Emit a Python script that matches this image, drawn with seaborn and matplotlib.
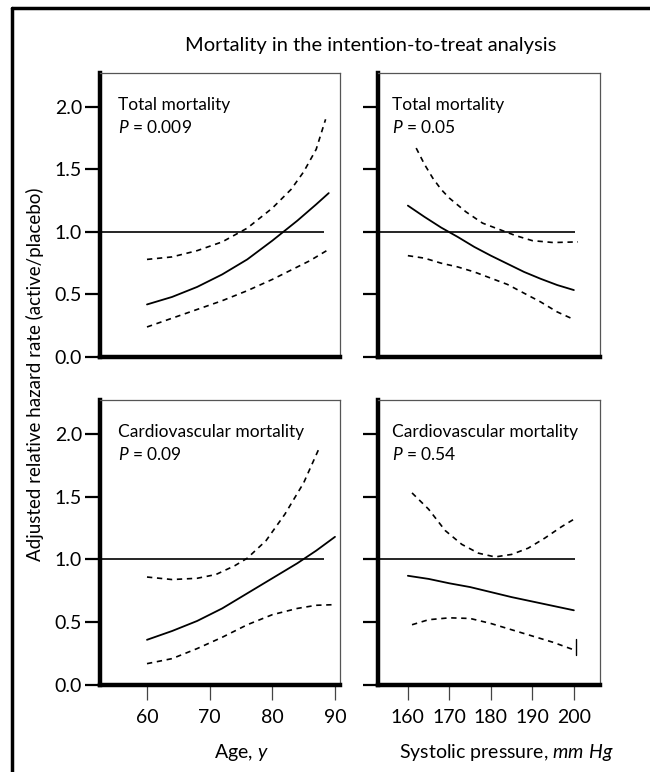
import seaborn as sns
import matplotlib.pyplot as plt
from matplotlib.lines import Line2D

# ---- values ----
# Total mortality by age
tm_age_x = [60, 64, 68, 72, 76, 80, 84, 87, 89]
tm_age_est = [0.42, 0.48, 0.56, 0.66, 0.78, 0.93, 1.09, 1.22, 1.31]
tm_age_up_x = [60, 64, 68, 72, 76, 80, 83, 85, 87, 88.5]
tm_age_up = [0.78, 0.80, 0.85, 0.92, 1.03, 1.19, 1.34, 1.48, 1.66, 1.90]
tm_age_lo_x = [60, 64, 68, 72, 76, 80, 84, 86, 89]
tm_age_lo = [0.24, 0.31, 0.38, 0.45, 0.53, 0.62, 0.72, 0.77, 0.86]

# Total mortality by systolic pressure
tm_sbp_x = [160, 164, 168, 172, 176, 180, 184, 188, 192, 196, 200]
tm_sbp_est = [1.21, 1.12, 1.035, 0.96, 0.88, 0.81, 0.745, 0.68, 0.625, 0.575, 0.535]
tm_sbp_up_x = [162, 164, 166, 168, 170, 174, 178, 182, 186, 190, 195, 201]
tm_sbp_up = [1.67, 1.54, 1.43, 1.34, 1.27, 1.16, 1.07, 1.02, 0.97, 0.93, 0.915, 0.92]
tm_sbp_lo_x = [160, 164, 168, 172, 176, 180, 184, 188, 192, 196, 200]
tm_sbp_lo = [0.81, 0.79, 0.75, 0.72, 0.68, 0.63, 0.58, 0.51, 0.44, 0.36, 0.30]

# Cardiovascular mortality by age
cv_age_x = [60, 64, 68, 72, 76, 80, 84, 87, 90]
cv_age_est = [0.36, 0.43, 0.51, 0.61, 0.73, 0.85, 0.97, 1.07, 1.18]
cv_age_up_x = [60, 64, 68, 71, 74, 76, 79, 82, 85, 87.6]
cv_age_up = [0.86, 0.84, 0.85, 0.88, 0.95, 1.01, 1.15, 1.36, 1.61, 1.90]
cv_age_lo_x = [60, 64, 68, 72, 76, 80, 84, 87, 90]
cv_age_lo = [0.17, 0.21, 0.29, 0.38, 0.48, 0.56, 0.61, 0.635, 0.64]

# Cardiovascular mortality by systolic pressure
cv_sbp_x = [160, 165, 170, 175, 180, 185, 190, 195, 200]
cv_sbp_est = [0.87, 0.845, 0.81, 0.78, 0.74, 0.70, 0.665, 0.63, 0.595]
cv_sbp_up_x = [161, 165, 169, 173, 177, 181, 185, 189, 193, 197, 200.5]
cv_sbp_up = [1.53, 1.40, 1.23, 1.12, 1.05, 1.02, 1.04, 1.09, 1.17, 1.26, 1.33]
cv_sbp_lo_x = [161, 165, 170, 175, 180, 185, 190, 195, 200]
cv_sbp_lo = [0.48, 0.52, 0.535, 0.53, 0.49, 0.44, 0.39, 0.34, 0.28]

titles = ["Total mortality", "Total mortality",
          "Cardiovascular mortality", "Cardiovascular mortality"]
p_values = ["0.009", "0.05", "0.09", "0.54"]
y_ticks = [0.0, 0.5, 1.0, 1.5, 2.0]
age_ticks = [60, 70, 80, 90]
sbp_ticks = [160, 170, 180, 190, 200]

# style
sns.set_style("white")
plt.rcParams['font.family'] = ['Lato', 'DejaVu Sans']
plt.rcParams.update({
    'mathtext.fontset': 'custom',
    'mathtext.rm': 'Lato',
    'mathtext.it': 'Lato:italic',
    'text.color': 'black',
    'axes.labelcolor': 'black',
    'xtick.color': 'black',
    'ytick.color': 'black',
})

fig = plt.figure(figsize=(6.5, 7.72), dpi=100)

W, H = 650, 772
def box(x0, x1, y0, y1):
    return [x0 / W, 1 - y1 / H, (x1 - x0) / W, (y1 - y0) / H]

ax_tl = fig.add_axes(box(100, 340, 73, 357))
ax_tr = fig.add_axes(box(378, 600, 73, 357))
ax_bl = fig.add_axes(box(100, 340, 400, 685))
ax_br = fig.add_axes(box(378, 600, 400, 685))

panels = [
    (ax_tl, tm_age_x, tm_age_est, tm_age_up_x, tm_age_up, tm_age_lo_x, tm_age_lo),
    (ax_tr, tm_sbp_x, tm_sbp_est, tm_sbp_up_x, tm_sbp_up, tm_sbp_lo_x, tm_sbp_lo),
    (ax_bl, cv_age_x, cv_age_est, cv_age_up_x, cv_age_up, cv_age_lo_x, cv_age_lo),
    (ax_br, cv_sbp_x, cv_sbp_est, cv_sbp_up_x, cv_sbp_up, cv_sbp_lo_x, cv_sbp_lo),
]

dash = (0, (3.2, 2.8))
for i, (ax, x, est, ux, up, lx, lo) in enumerate(panels):
    is_age = i % 2 == 0
    sns.lineplot(x=x, y=est, ax=ax, color='black', lw=1.3)
    sns.lineplot(x=ux, y=up, ax=ax, color='black', lw=1.2, linestyle=dash)
    sns.lineplot(x=lx, y=lo, ax=ax, color='black', lw=1.2, linestyle=dash)

    if is_age:
        ax.set_xlim(52.5, 90.8)
        ax.hlines(1.0, 52.5, 88.2, color='black', lw=1.2)
        ax.set_xticks(age_ticks)
    else:
        ax.set_xlim(152.8, 206.3)
        ax.hlines(1.0, 152.8, 200.3, color='black', lw=1.2)
        ax.set_xticks(sbp_ticks)
    ax.set_ylim(0, 2.27)
    ax.set_yticks(y_ticks)
    ax.set_yticklabels([f"{v:.1f}" for v in y_ticks] if is_age else [])

    for side in ['left', 'bottom']:
        ax.spines[side].set_linewidth(3.2)
        ax.spines[side].set_color('black')
    for side in ['top', 'right']:
        ax.spines[side].set_linewidth(0.9)
        ax.spines[side].set_color('#555555')

    ax.tick_params(axis='y', direction='out', length=11, width=1.6,
                   color='black', labelsize=14, pad=2, left=True)
    if i < 2:
        ax.tick_params(axis='x', bottom=False, labelbottom=False)
    else:
        ax.tick_params(axis='x', direction='out', length=11, width=0.9,
                       color='#444444', labelsize=14, pad=6, bottom=True)
    ax.set_xlabel("")
    ax.set_ylabel("")
    ax.grid(False)

    ax.text(0.075 if is_age else 0.063, 0.915,
            f"{titles[i]}\n$P$ = {p_values[i]}",
            transform=ax.transAxes, ha='left', va='top',
            fontsize=12.5, linespacing=1.4)

# small end mark on lower band of the last panel
cap_x = [200.5, 200.5]
cap_y = [0.24, 0.37]
sns.lineplot(x=cap_x, y=cap_y, ax=ax_br, color='black', lw=1.0,
             estimator=None, sort=False)

ax_bl.set_xlabel("Age, $\\it{y}$", fontsize=14)
ax_bl.xaxis.set_label_coords(0.587, -0.2)
ax_br.set_xlabel("Systolic pressure, $\\it{mm\\ Hg}$", fontsize=14)
ax_br.xaxis.set_label_coords(0.577, -0.2)

fig.text(0.57, 1 - 45 / H, "Mortality in the intention-to-treat analysis",
         ha='center', va='center', fontsize=14.5)
fig.text(35 / W, 0.515, "Adjusted relative hazard rate (active/placebo)",
         rotation=90, ha='center', va='center', fontsize=13.5)

# outer frame (top and left edges)
fig.add_artist(Line2D([12 / W, 1], [1 - 8 / H, 1 - 8 / H], lw=2.5,
                      color='black', transform=fig.transFigure))
fig.add_artist(Line2D([12 / W, 12 / W], [0, 1 - 8 / H], lw=2.5,
                      color='black', transform=fig.transFigure))

fig.savefig("out.png", dpi=100, facecolor='white')
